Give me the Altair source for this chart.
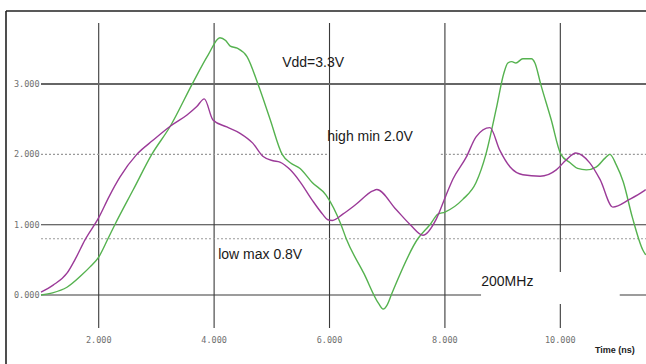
import altair as alt
import pandas as pd

# ---- data ----
green_t = [1.00, 1.20, 1.45, 1.70, 1.85, 2.00, 2.16, 2.28, 2.60, 2.92, 3.24, 3.62, 3.90, 4.10, 4.20,
           4.28, 4.40, 4.57, 4.76, 4.97, 5.18, 5.32, 5.49, 5.70, 5.94, 6.20, 6.29, 6.60, 6.85, 6.93,
           7.00, 7.07, 7.53, 7.74, 7.88, 8.00, 8.31, 8.54, 8.71, 8.89, 9.02, 9.09, 9.16, 9.23, 9.35,
           9.50, 9.56, 9.66, 9.84, 10.01, 10.17, 10.30, 10.45, 10.62, 10.78, 10.86, 10.97,
           11.09, 11.25, 11.43, 11.48]
green_v = [0.00, 0.03, 0.11, 0.28, 0.40, 0.54, 0.80, 1.00, 1.50, 2.00, 2.40, 3.00, 3.42, 3.66, 3.62,
           3.54, 3.51, 3.39, 3.00, 2.50, 2.00, 1.88, 1.80, 1.60, 1.42, 1.00, 0.80, 0.30, -0.12, -0.20,
           -0.14, 0.00, 0.80, 1.00, 1.15, 1.18, 1.36, 1.60, 2.00, 2.65, 3.15, 3.30, 3.32, 3.30, 3.36,
           3.36, 3.30, 3.00, 2.50, 2.00, 1.88, 1.80, 1.78, 1.82, 1.95, 2.00, 1.85,
           1.61, 1.10, 0.64, 0.57]

purple_t = [1.00, 1.21, 1.45, 1.60, 1.76, 2.00, 2.18, 2.37, 2.66, 2.94, 3.24, 3.53, 3.70, 3.83, 3.98,
            4.22, 4.45, 4.67, 4.85, 5.02, 5.14, 5.32, 5.49, 5.70, 5.89, 5.97, 6.05, 6.23, 6.46,
            6.75, 6.82, 7.15, 7.40, 7.62, 7.85, 8.02, 8.14, 8.37, 8.54, 8.78, 8.95, 9.13, 9.35,
            9.65, 9.93, 10.10, 10.27, 10.51, 10.69, 10.91, 11.20, 11.43, 11.48]
purple_v = [0.04, 0.14, 0.31, 0.52, 0.78, 1.10, 1.40, 1.68, 2.00, 2.20, 2.40, 2.56, 2.68, 2.79, 2.49,
            2.39, 2.30, 2.16, 1.97, 1.91, 1.89, 1.78, 1.61, 1.35, 1.14, 1.07, 1.06, 1.15, 1.29,
            1.48, 1.50, 1.22, 1.00, 0.85, 1.08, 1.42, 1.65, 1.96, 2.25, 2.38, 2.06, 1.82, 1.71,
            1.69, 1.78, 1.92, 2.02, 1.88, 1.64, 1.25, 1.36, 1.47, 1.50]

x_ticks = [2, 4, 6, 8, 10]
x_tick_labels = ["2.000", "4.000", "6.000", "8.000", "10.000"]
y_ticks = [0, 1, 2, 3]
y_tick_labels = ["0.000", "1.000", "2.000", "3.000"]

solid_levels = [0.0, 1.0]
dotted_levels = [0.8]
high_level = 2.0
vdd_level = 3.0

annotations = ["Vdd=3.3V", "high min 2.0V", "low max 0.8V", "200MHz"]
ann_t = [5.18, 5.96, 4.07, 8.63]
ann_v = [3.30, 2.25, 0.57, 0.185]

# ---- scales ----
X0, X1 = 0.2894, 11.485
Y0, Y1 = -0.9815, 4.196
xs = alt.Scale(domain=[X0, X1], nice=False, zero=False)
ys = alt.Scale(domain=[Y0, Y1], nice=False, zero=False)
X = lambda f: alt.X(f, type="quantitative", scale=xs, axis=None)
Y = lambda f: alt.Y(f, type="quantitative", scale=ys, axis=None)

# vertical grid lines
vgrid = pd.DataFrame({"t": x_ticks, "lo": -0.469, "hi": 3.869})
vg = alt.Chart(vgrid).mark_rule(color="#3a3a3a", strokeWidth=1.1).encode(
    x=X("t"), y=Y("lo"), y2="hi")

hsolid = pd.DataFrame({"v": solid_levels, "a": 1.0, "b": X1})
hs = alt.Chart(hsolid).mark_rule(color="#3a3a3a", strokeWidth=1.1).encode(
    x=X("a"), x2="b", y=Y("v"))

h3 = alt.Chart(pd.DataFrame({"v": [vdd_level], "a": 1.0, "b": X1})).mark_rule(
    color="#666666", strokeWidth=2).encode(x=X("a"), x2="b", y=Y("v"))

hdot = pd.DataFrame({"v": dotted_levels + [high_level, high_level],
                     "a": [1.0, 1.0, 7.93], "b": [X1, 5.97, X1]})
hd = alt.Chart(hdot).mark_rule(color="#9a9a9a", strokeWidth=1.2, strokeDash=[2, 2]).encode(
    x=X("a"), x2="b", y=Y("v"))

# white box behind the 200MHz label
box = alt.Chart(pd.DataFrame({"a": [8.626], "b": [11.03], "lo": [-0.128], "hi": [0.327]})).mark_rect(
    color="white").encode(x=X("a"), x2="b", y=Y("lo"), y2="hi")

curves = pd.concat([
    pd.DataFrame({"t": green_t, "v": green_v, "s": "green", "o": range(len(green_t))}),
    pd.DataFrame({"t": purple_t, "v": purple_v, "s": "purple", "o": range(len(purple_t))}),
])
lines = alt.Chart(curves).mark_line(strokeWidth=1.4, clip=True, interpolate="monotone").encode(
    x=X("t"), y=Y("v"), order="o:Q",
    color=alt.Color("s:N", scale=alt.Scale(domain=["green", "purple"],
                                            range=["#55b24f", "#9b3a98"]), legend=None))

ann = alt.Chart(pd.DataFrame({"t": ann_t, "v": ann_v, "txt": annotations})).mark_text(
    align="left", baseline="middle", font="Liberation Sans", fontSize=14, color="#1a1a1a").encode(
    x=X("t"), y=Y("v"), text="txt:N")

xl = alt.Chart(pd.DataFrame({"t": x_ticks, "v": -0.64, "txt": x_tick_labels})).mark_text(
    align="center", baseline="middle", font="DejaVu Sans Mono", fontSize=8.5, color="#6f6f6f").encode(
    x=X("t"), y=Y("v"), text="txt:N")

yl = alt.Chart(pd.DataFrame({"t": 0.975, "v": y_ticks, "txt": y_tick_labels})).mark_text(
    align="right", baseline="middle", font="DejaVu Sans Mono", fontSize=8.5, color="#6f6f6f").encode(
    x=X("t"), y=Y("v"), text="txt:N")

tl = alt.Chart(pd.DataFrame({"t": [10.6], "v": [-0.78], "txt": ["Time  (ns)"]})).mark_text(
    align="left", baseline="middle", font="Liberation Sans", fontSize=9, fontWeight="bold",
    color="#222222").encode(x=X("t"), y=Y("v"), text="txt:N")

frame_left = alt.Chart(pd.DataFrame({"a": [0]})).mark_rule(color="#222222", strokeWidth=1.6).encode(
    x=alt.value(6), y=alt.value(11), y2=alt.value(364))
frame_top = alt.Chart(pd.DataFrame({"a": [0]})).mark_rule(color="#222222", strokeWidth=1.6).encode(
    x=alt.value(6), x2=alt.value(646), y=alt.value(11))

chart = alt.layer(vg, hs, h3, hd, box, ann, xl, yl, tl, lines, frame_left, frame_top).properties(
    width=646, height=364, padding=0, autosize=alt.AutoSizeParams(type="none"),
    background="white"
).configure_view(stroke=None)

chart.save("out.html", embed_options={"renderer": "svg", "actions": False})
